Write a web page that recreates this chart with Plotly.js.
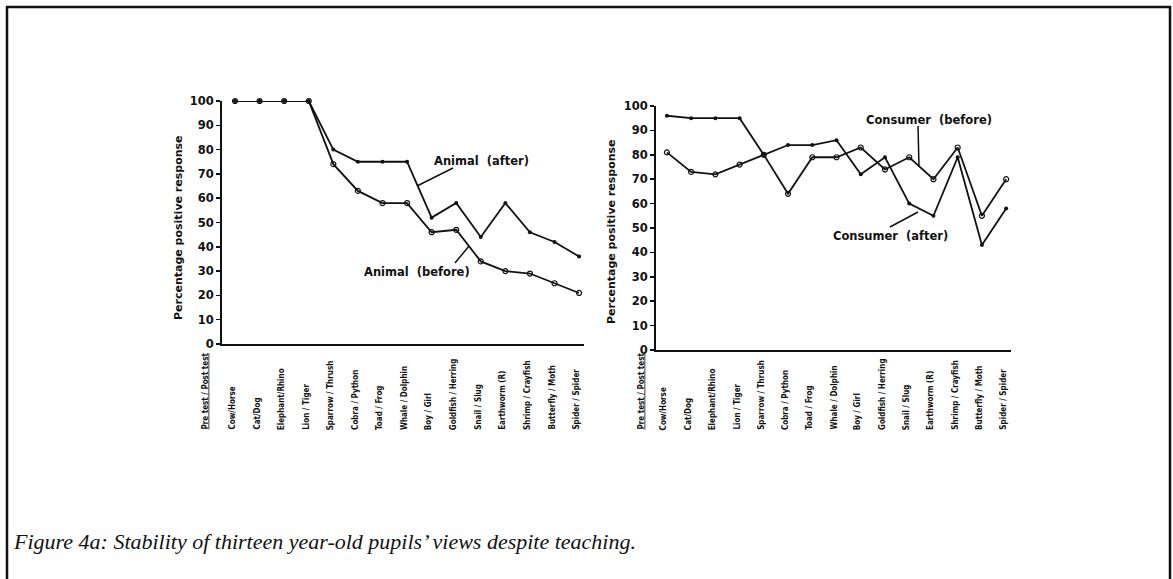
<!DOCTYPE html>
<html><head><meta charset="utf-8">
<script src="https://cdn.plot.ly/plotly-3.0.1.min.js"></script>
<style>html,body{margin:0;padding:0;background:#fff;}#chart{width:1173px;height:579px;}</style>
</head><body><div id="chart"></div>
<script>
var categories = ["Cow/Horse","Cat/Dog","Elephant/Rhino","Lion / Tiger","Sparrow / Thrush","Cobra / Python","Toad / Frog","Whale / Dolphin","Boy / Girl","Goldfish / Herring","Snail / Slug","Earthworm (R)","Shrimp / Crayfish","Butterfly / Moth","Spider / Spider"];
var headerLabel = "Pre test / Post test";
var animalBefore = [100,100,100,100,74,63,58,58,46,47,34,30,29,25,21];
var animalAfter  = [100,100,100,100,80,75,75,75,52,58,44,58,46,42,36];
var consumerBefore = [81,73,72,76,80,64,79,79,83,74,79,70,83,55,70];
var consumerAfter  = [96,95,95,95,80,84,84,86,72,79,60,55,79,43,58];
var yTickVals = [0,10,20,30,40,50,60,70,80,90,100];
var yTitle = "Percentage positive response";
var caption = "Figure 4a: Stability of thirteen year-old pupils\u2019 views despite teaching.";

var W = 1173, H = 579;
function px(x){return x/W;}
function py(y){return 1-y/H;}

var boldFont = '"DejaVu Sans", "Liberation Sans", sans-serif';
var narrowFont = '"Liberation Sans Narrow", "DejaVu Sans Condensed", "Roboto", sans-serif';

function lineTrace(y, xa, ya, filled, name){
  return {
    x: categories, y: y, xaxis: xa, yaxis: ya, name: name, type: 'scatter', mode: 'lines+markers',
    line: {color: '#111', width: 1.8},
    marker: filled ? {symbol: 'circle', size: 4, color: '#111'} :
                     {symbol: 'circle-open', size: 5, color: '#111', line: {width: 1.2, color: '#111'}},
    showlegend: false, cliponaxis: false
  };
}

var data = [
  lineTrace(animalAfter, 'x', 'y', true, 'Animal (after)'),
  lineTrace(animalBefore, 'x', 'y', false, 'Animal (before)'),
  lineTrace(consumerAfter, 'x2', 'y2', true, 'Consumer (after)'),
  lineTrace(consumerBefore, 'x2', 'y2', false, 'Consumer (before)')
];

function xAxis(d0, d1, r0, anchor){
  return {domain: [px(d0), px(d1)], range: [r0, 14.2], type: 'category', anchor: anchor,
    showline: true, linecolor: '#111', linewidth: 2, showgrid: false, zeroline: false,
    showticklabels: false, ticks: '', fixedrange: true};
}
function yAxis(top, bottom, anchor){
  return {domain: [py(bottom), py(top)], range: [0, 100], anchor: anchor,
    showline: true, linecolor: '#111', linewidth: 2, showgrid: false, zeroline: false,
    tickvals: yTickVals, ticks: 'outside', ticklen: 4, tickwidth: 1.5, tickcolor: '#111',
    tickfont: {family: boldFont, size: 11.5, color: '#111', weight: 'bold'}, fixedrange: true};
}

var annotations = [];
var labelFont = {family: narrowFont, size: 8, color: '#111', weight: 'bold'};
function labelSet(xa, headerPx, bottomPx){
  categories.forEach(function(c){
    annotations.push({xref: xa, yref: 'paper', x: c, y: py(bottomPx), xshift: -3,
      text: c, textangle: -90, xanchor: 'center', yanchor: 'bottom', showarrow: false,
      font: labelFont});
  });
  annotations.push({xref: 'paper', yref: 'paper', x: px(headerPx), y: py(bottomPx),
    text: '<u>' + headerLabel + '</u>', textangle: -90, xanchor: 'center', yanchor: 'bottom', showarrow: false,
    font: labelFont});
}
labelSet('x', 205, 432);
labelSet('x2', 641, 432);

function textAnn(t, x, y, anchor){
  annotations.push({xref: 'paper', yref: 'paper', x: px(x), y: py(y), text: t, showarrow: false,
    xanchor: anchor || 'center', yanchor: 'middle',
    font: {family: boldFont, size: 11.5, color: '#111', weight: 'bold'}});
}
textAnn('Animal  (after)', 481, 161);
textAnn('Animal  (before)', 417, 272);
textAnn('Consumer  (before)', 929, 120);
textAnn('Consumer  (after)', 890, 236);

function titleAnn(x, y){
  annotations.push({xref: 'paper', yref: 'paper', x: px(x), y: py(y), text: yTitle, textangle: -90,
    showarrow: false, xanchor: 'center', yanchor: 'middle',
    font: {family: boldFont, size: 11, color: '#111', weight: 'bold'}});
}
titleAnn(178, 228);
titleAnn(612, 232);

annotations.push({xref: 'paper', yref: 'paper', x: px(11), y: py(541), text: caption, showarrow: false,
  xanchor: 'left', yanchor: 'middle',
  font: {family: '"Liberation Serif", "DejaVu Serif", serif', size: 22, color: '#111', style: 'italic'}});

function seg(x0, y0, x1, y1, w){
  return {type: 'line', xref: 'paper', yref: 'paper', x0: px(x0), y0: py(y0), x1: px(x1), y1: py(y1),
    line: {color: '#111', width: w || 1.5}};
}
var shapes = [
  {type: 'rect', xref: 'paper', yref: 'paper', x0: px(7), y0: py(600), x1: px(1170), y1: py(7),
   line: {color: '#111', width: 2.5}},
  seg(453, 168, 417, 186),
  seg(455, 263, 469, 246),
  seg(918, 126, 919, 167),
  seg(890, 227, 918, 212)
];

var layout = {
  width: W, height: H, margin: {l: 0, r: 0, t: 0, b: 0},
  paper_bgcolor: '#fff', plot_bgcolor: 'rgba(0,0,0,0)', showlegend: false,
  xaxis: xAxis(222, 584, -0.53, 'y'),
  yaxis: yAxis(101, 344, 'x'),
  xaxis2: xAxis(656, 1011, -0.45, 'y2'),
  yaxis2: yAxis(106, 350, 'x2'),
  annotations: annotations, shapes: shapes
};
Plotly.newPlot('chart', data, layout, {displayModeBar: false, staticPlot: true});
</script></body></html>
